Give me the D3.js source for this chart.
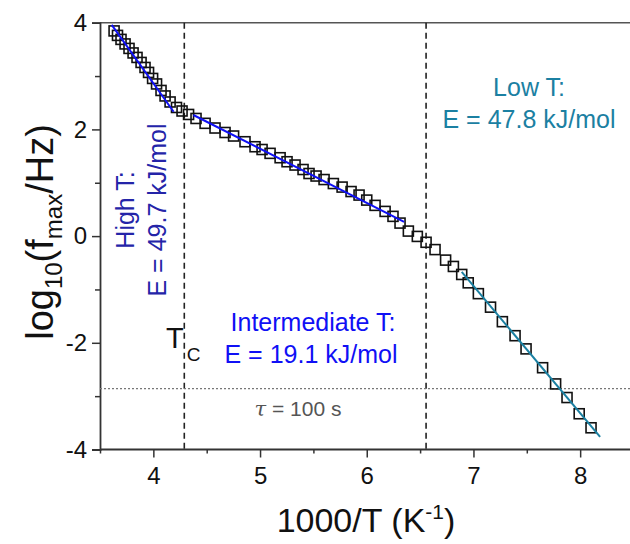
<!DOCTYPE html>
<html>
<head>
<meta charset="utf-8">
<script src="https://cdn.jsdelivr.net/npm/d3@7"></script>
<style>
  body { margin: 0; background: #fff; }
  svg { font-family: "Liberation Sans", Arial, sans-serif; }
</style>
</head>
<body>
<svg id="chart" width="630" height="544"></svg>
<script>
// 1000/T values and log10(fmax)
const xHigh = [3.632, 3.664, 3.697, 3.735, 3.772, 3.810, 3.847, 3.885, 3.922, 3.955, 3.993, 4.030, 4.072, 4.110, 4.157, 4.217, 4.269, 4.330, 4.400];
const yHigh = [3.846, 3.762, 3.687, 3.602, 3.518, 3.433, 3.349, 3.255, 3.161, 3.068, 2.955, 2.852, 2.730, 2.627, 2.514, 2.411, 2.345, 2.280, 2.205];

const xMid = [4.485, 4.578, 4.672, 4.752, 4.859, 4.953, 5.019, 5.094, 5.188, 5.253, 5.328, 5.403, 5.459, 5.525, 5.600, 5.687, 5.769, 5.853, 5.928, 6.000, 6.078, 6.172, 6.246, 6.312];
const yMid = [2.114, 2.026, 1.942, 1.876, 1.769, 1.675, 1.623, 1.551, 1.469, 1.394, 1.332, 1.248, 1.173, 1.126, 1.060, 0.985, 0.919, 0.835, 0.769, 0.675, 0.576, 0.463, 0.370, 0.244];

const xLow = [6.390, 6.474, 6.556, 6.640, 6.739, 6.812, 6.890, 6.951, 7.046, 7.160, 7.271, 7.390, 7.493, 7.648, 7.770, 7.877, 7.991, 8.102];
const yLow = [0.094, -0.006, -0.116, -0.253, -0.450, -0.569, -0.719, -0.876, -1.079, -1.332, -1.604, -1.867, -2.114, -2.467, -2.771, -3.026, -3.330, -3.593];

// Arrhenius fit end points
const fitHigh = [[3.61, 3.96], [4.19, 2.33]];
const fitMid = [[4.375, 2.27], [6.35, 0.268]];
const fitLow = [[6.89, -0.67], [8.187, -3.765]];

const tc = 4.29;          // T_c line
const lowBoundary = 6.556; // low T boundary line
const tau100 = -2.86;     // tau = 100 s level

const xTicks = [4, 5, 6, 7, 8];
const xMinor = [3.5, 4.5, 5.5, 6.5, 7.5];
const yTicks = [-4, -2, 0, 2, 4];
const yMinor = [-3, -1, 1, 3];

const svg = d3.select("#chart");

const xScale = d3.scaleLinear().domain([3.5, 8.5]).range([100, 633.5]);
const yScale = d3.scaleLinear().domain([-4, 4]).range([449.5, 22.7]);

const blue = "#1010f5";
const navy = "#2424a8";
const teal = "#1b80a2";

// frame line at top
svg.append("line")
    .attr("x1", xScale(3.5)).attr("x2", 630)
    .attr("y1", yScale(4)).attr("y2", yScale(4))
    .attr("stroke", "#555").attr("stroke-width", 1.5);

// x axis
const xAxis = svg.append("g")
    .attr("transform", "translate(0," + yScale(-4) + ")")
    .call(d3.axisBottom(xScale).tickValues(xTicks).tickSize(8).tickPadding(9).tickFormat(d3.format("d")));
svg.append("g")
    .attr("transform", "translate(0," + yScale(-4) + ")")
    .call(d3.axisBottom(xScale).tickValues(xMinor).tickSize(4).tickFormat(""))
    .select(".domain").remove();

// y axis
const yAxis = svg.append("g")
    .attr("transform", "translate(" + xScale(3.5) + ",0)")
    .call(d3.axisLeft(yScale).tickValues(yTicks).tickSize(8).tickPadding(5).tickFormat(d => d < 0 ? "-" + Math.abs(d) : d));
svg.append("g")
    .attr("transform", "translate(" + xScale(3.5) + ",0)")
    .call(d3.axisLeft(yScale).tickValues(yMinor).tickSize(5).tickFormat(""))
    .select(".domain").remove();

svg.selectAll(".domain").attr("stroke", "#333").attr("stroke-width", 1.8);
svg.selectAll(".tick line").attr("stroke", "#333").attr("stroke-width", 1.5);
svg.selectAll(".tick text").attr("fill", "#111").style("font-size", "24px")
    .style("font-family", '"Liberation Sans", Arial, sans-serif');
xAxis.select(".domain").attr("d", "M" + xScale(3.5) + ",0H630");

// dashed boundaries
[tc, lowBoundary].forEach(v => {
    svg.append("line")
        .attr("x1", xScale(v)).attr("x2", xScale(v))
        .attr("y1", yScale(4)).attr("y2", yScale(-4))
        .attr("stroke", "#222").attr("stroke-width", 1.6)
        .attr("stroke-dasharray", "6,4");
});

// tau = 100 s level
svg.append("line")
    .attr("x1", xScale(3.5)).attr("x2", 630)
    .attr("y1", yScale(tau100)).attr("y2", yScale(tau100))
    .attr("stroke", "#777").attr("stroke-width", 1.2)
    .attr("stroke-dasharray", "2,2");

// data squares
const pts = [];
xHigh.forEach((x, i) => pts.push([x, yHigh[i]]));
xMid.forEach((x, i) => pts.push([x, yMid[i]]));
xLow.forEach((x, i) => pts.push([x, yLow[i]]));

const sq = 10;
svg.append("g").selectAll("rect")
    .data(pts)
    .enter()
    .append("rect")
    .attr("x", d => xScale(d[0]) - sq / 2)
    .attr("y", d => yScale(d[1]) - sq / 2)
    .attr("width", sq).attr("height", sq)
    .attr("fill", "none")
    .attr("stroke", "#111")
    .attr("stroke-width", 1.6);

// fit lines
const line = d3.line()
    .x(d => xScale(d[0]))
    .y(d => yScale(d[1]));

[[fitHigh, blue], [fitMid, blue], [fitLow, teal]].forEach(f => {
    svg.append("path")
        .datum(f[0])
        .attr("d", line)
        .attr("fill", "none")
        .attr("stroke", f[1])
        .attr("stroke-width", 2);
});

// annotations
const lowT = svg.append("text")
    .attr("text-anchor", "middle")
    .attr("fill", teal)
    .style("font-size", "25px");
lowT.append("tspan").attr("x", 529).attr("y", 96).text("Low T:");
lowT.append("tspan").attr("x", 529).attr("y", 128).text("E = 47.8 kJ/mol");

const midT = svg.append("text")
    .attr("text-anchor", "middle")
    .attr("fill", blue)
    .style("font-size", "25px");
midT.append("tspan").attr("x", 313).attr("y", 331).text("Intermediate T:");
midT.append("tspan").attr("x", 311).attr("y", 363).text("E = 19.1 kJ/mol");

const highT = svg.append("text")
    .attr("text-anchor", "middle")
    .attr("fill", navy)
    .attr("transform", "translate(134,210)rotate(-90)")
    .style("font-size", "25px");
highT.append("tspan").attr("x", 0).attr("y", 0).text("High T:");
highT.append("tspan").attr("x", 0).attr("y", 32).text("E = 49.7 kJ/mol");

const tcLabel = svg.append("text")
    .attr("x", 166).attr("y", 348)
    .attr("fill", "#111")
    .style("font-size", "29px")
    .text("T");
tcLabel.append("tspan").attr("dx", 3).attr("dy", 13).style("font-size", "19px").text("C");

const tauLabel = svg.append("text")
    .attr("x", 298).attr("y", 416)
    .attr("text-anchor", "middle")
    .attr("fill", "#555")
    .style("font-size", "21px");
tauLabel.append("tspan").style("font-style", "italic").style("font-family", '"DejaVu Serif", serif').text("\u03c4");
tauLabel.append("tspan").text(" = 100 s");

// axis titles
const xTitle = svg.append("text")
    .attr("x", 366).attr("y", 532)
    .attr("text-anchor", "middle")
    .attr("fill", "#111")
    .style("font-size", "34px");
xTitle.append("tspan").text("1000/T (K");
xTitle.append("tspan").attr("dy", -13).style("font-size", "21px").text("-1");
xTitle.append("tspan").attr("dy", 13).text(")");

const yTitle = svg.append("text")
    .attr("transform", "translate(53,232)rotate(-90)")
    .attr("text-anchor", "middle")
    .attr("fill", "#111")
    .style("font-size", "38px");
yTitle.append("tspan").text("log");
yTitle.append("tspan").attr("dy", 9).style("font-size", "24px").text("10");
yTitle.append("tspan").attr("dy", -9).text("(f");
yTitle.append("tspan").attr("dy", 9).style("font-size", "24px").text("max");
yTitle.append("tspan").attr("dy", -9).text("/Hz)");
</script>
</body>
</html>
